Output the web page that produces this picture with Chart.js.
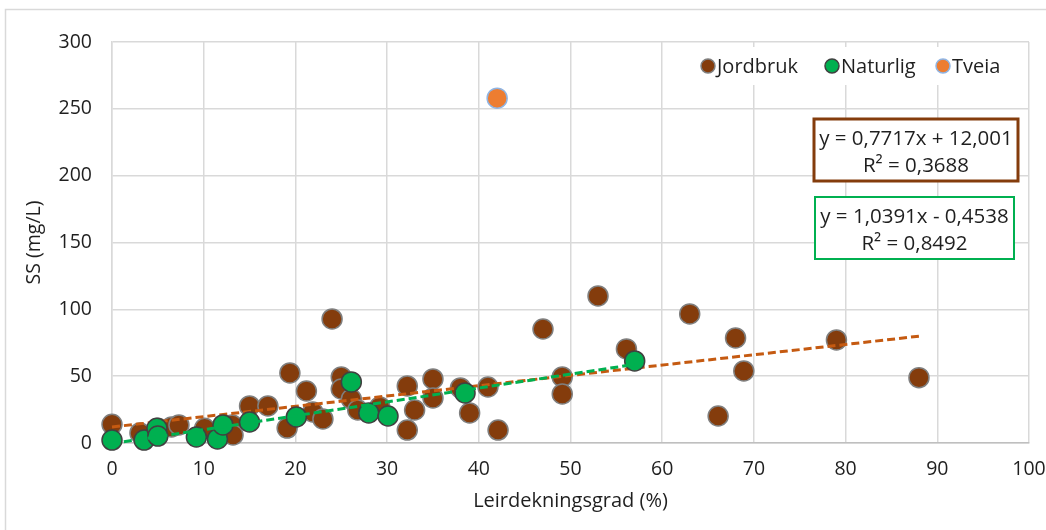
<!DOCTYPE html>
<html>
<head>
<meta charset="utf-8">
<script src="https://cdn.jsdelivr.net/npm/chart.js@4.4.1/dist/chart.umd.min.js"></script>
<style>
  html, body { margin: 0; padding: 0; background: #ffffff; }
  #wrap { width: 1046px; height: 530px; position: relative; }
</style>
</head>
<body>
<div id="wrap"><canvas id="c" width="1046" height="530"></canvas></div>
<script>
// ---- Data ----
const jordbrukX = [0, 3.05, 5.0, 6.5, 7.3, 10.1, 13.1, 13.2, 15.0, 17.0, 19.4, 19.1, 21.2, 21.9, 23.0, 24.0, 25.0, 25.0, 26.1, 26.8, 29.2, 32.2, 33.0, 32.2, 35.0, 35.0, 38.0, 39.0, 41.0, 42.1, 47.0, 49.1, 49.1, 53.0, 56.1, 63.0, 66.1, 68.0, 68.9, 79.0, 88.0];
const jordbrukY = [14, 7.5, 11, 12, 13.5, 11, 13.5, 6, 27.7, 27.7, 52.4, 11.2, 38.9, 23.2, 18, 92.8, 49.4, 40.4, 32.9, 24.7, 27, 42.7, 24.7, 9.7, 47.9, 33.7, 41.2, 22.5, 41.9, 9.7, 85.3, 49.4, 36.7, 110, 70.4, 96.6, 20.2, 78.6, 53.9, 77.1, 48.9];

const naturligX = [0, 3.5, 4.9, 5.0, 9.2, 11.5, 12.1, 15.0, 20.1, 26.1, 28.0, 30.1, 38.5, 57.0];
const naturligY = [2.2, 2.2, 11, 5.2, 4.5, 3, 13.5, 15.7, 19.5, 45.7, 22.5, 20.2, 37.4, 61.4];

const tveiaX = [42.0];
const tveiaY = [258];

// Trend line endpoints
const trendJordbrukX = [0, 88];
const trendJordbrukY = [12.0, 79.9];
const trendNaturligX = [0, 57];
const trendNaturligY = [-0.45, 58.8];

const seriesNames = ["Jordbruk", "Naturlig", "Tveia"];
const eqJordbruk = ["y = 0,7717x + 12,001", "R² = 0,3688"];
const eqNaturlig = ["y = 1,0391x - 0,4538", "R² = 0,8492"];

const xTicks = [0, 10, 20, 30, 40, 50, 60, 70, 80, 90, 100];
const yTicks = [0, 50, 100, 150, 200, 250, 300];
const xTitle = "Leirdekningsgrad (%)";
const yTitle = "SS (mg/L)";

const pts = (xs, ys) => xs.map((x, i) => ({ x: x, y: ys[i] }));

const FONT = "'Open Sans', 'Liberation Sans', sans-serif";
const TXT = "#1f1f1f";

const overlayPlugin = {
  id: 'overlay',
  beforeDraw(chart) {
    const ctx = chart.ctx;
    ctx.save();
    ctx.fillStyle = '#ffffff';
    ctx.fillRect(0, 0, chart.width, chart.height);
    ctx.strokeStyle = '#d9d9d9';
    ctx.lineWidth = 1.5;
    ctx.strokeRect(5.5, 9.5, 1200, 700);
    ctx.restore();
  },
  afterDraw(chart) {
    const ctx = chart.ctx;
    ctx.save();
    // Legend (inside plot, top right)
    ctx.fillStyle = '#ffffff';
    ctx.fillRect(690, 47, 326, 38);
    const items = [0, 1, 2].map(i => chart.data.datasets[i]);
    const mx = [708, 832, 943];
    ctx.font = "20px " + FONT;
    ctx.textBaseline = 'middle';
    ctx.textAlign = 'left';
    items.forEach((ds, i) => {
      ctx.beginPath();
      ctx.arc(mx[i], 66, 7, 0, Math.PI * 2);
      ctx.fillStyle = ds.backgroundColor;
      ctx.fill();
      ctx.lineWidth = 1.5;
      ctx.strokeStyle = ds.borderColor;
      ctx.stroke();
      ctx.fillStyle = TXT;
      ctx.fillText(ds.label, mx[i] + 9, 67);
    });
    // Equation boxes
    const box = (x, y, w, h, col, lw, lines) => {
      ctx.fillStyle = '#ffffff';
      ctx.fillRect(x, y, w, h);
      ctx.strokeStyle = col;
      ctx.lineWidth = lw;
      ctx.strokeRect(x, y, w, h);
      ctx.fillStyle = TXT;
      ctx.textAlign = 'center';
      ctx.font = "20.5px " + FONT;
      ctx.fillText(lines[0], x + w / 2, y + 20);
      ctx.fillText(lines[1], x + w / 2, y + 47);
    };
    box(814, 119, 204, 62, '#843C0C', 3, eqJordbruk);
    box(815, 197, 199, 62, '#00B050', 2, eqNaturlig);
    ctx.restore();
  }
};

new Chart(document.getElementById('c'), {
  type: 'scatter',
  data: {
    datasets: [
      { label: seriesNames[0], data: pts(jordbrukX, jordbrukY), backgroundColor: '#843C0C', borderColor: '#7f7f7f', borderWidth: 1.5, pointRadius: 10, order: 4, clip: false },
      { label: seriesNames[1], data: pts(naturligX, naturligY), backgroundColor: '#00B050', borderColor: '#404040', borderWidth: 1.5, pointRadius: 10, order: 2, clip: false },
      { label: seriesNames[2], data: pts(tveiaX, tveiaY), backgroundColor: '#ED7D31', borderColor: '#8FB4E3', borderWidth: 1.5, pointRadius: 10, order: 1, clip: false },
      { label: 'trendJ', type: 'line', data: pts(trendJordbrukX, trendJordbrukY), borderColor: '#C55A11', borderWidth: 3, borderDash: [8, 4], pointRadius: 0, fill: false, order: 3, clip: false },
      { label: 'trendN', type: 'line', data: pts(trendNaturligX, trendNaturligY), borderColor: '#00B050', borderWidth: 3, borderDash: [8, 4], pointRadius: 0, fill: false, order: 1.5, clip: false }
    ]
  },
  options: {
    responsive: false,
    animation: false,
    devicePixelRatio: 1,
    layout: { padding: { left: 5, right: 17, top: 42, bottom: 0 } },
    plugins: { legend: { display: false }, tooltip: { enabled: false } },
    scales: {
      x: {
        type: 'linear', min: 0, max: 100,
        afterBuildTicks: s => { s.ticks = xTicks.map(v => ({ value: v })); },
        afterFit: s => { s.height = 87; s.paddingLeft = 0; s.paddingRight = 0; },
        grid: { color: '#d9d9d9', lineWidth: 1.5, drawTicks: false },
        border: { color: '#bfbfbf', width: 1.5 },
        ticks: { color: TXT, font: { family: FONT, size: 19.5 }, padding: 15, maxRotation: 0 },
        title: { display: true, text: xTitle, color: TXT, font: { family: FONT, size: 20 }, padding: { top: 0, bottom: 17 } }
      },
      y: {
        type: 'linear', min: 0, max: 300,
        afterBuildTicks: s => { s.ticks = yTicks.map(v => ({ value: v })); },
        afterFit: s => { s.width = 107; s.paddingTop = 0; s.paddingBottom = 0; },
        grid: { color: '#d9d9d9', lineWidth: 1.5, drawTicks: false },
        border: { color: '#d9d9d9', width: 1.5 },
        ticks: { color: TXT, font: { family: FONT, size: 19.5 }, padding: 20 },
        title: { display: true, text: yTitle, color: TXT, font: { family: FONT, size: 19.5 }, padding: { top: 18, bottom: 0 } }
      }
    }
  },
  plugins: [overlayPlugin]
});
</script>
</body>
</html>
